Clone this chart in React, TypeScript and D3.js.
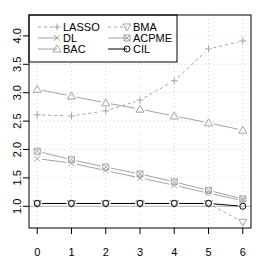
import React from 'react';
import * as d3 from 'd3';

const steps = [0, 1, 2, 3, 4, 5, 6];
const yTicks = [1.0, 1.5, 2.0, 2.5, 3.0, 3.5, 4.0];

const lasso = [2.61, 2.59, 2.68, 2.87, 3.21, 3.77, 3.91];
const dl = [1.84, 1.76, 1.63, 1.5, 1.37, 1.23, 1.1];
const bac = [3.06, 2.94, 2.82, 2.71, 2.59, 2.47, 2.34];
const bma = [1.05, 1.05, 1.05, 1.05, 1.05, 1.05, 0.72];
const acpme = [1.97, 1.82, 1.69, 1.57, 1.43, 1.28, 1.13];
const cil = [1.05, 1.05, 1.05, 1.05, 1.05, 1.05, 1.0];

const GRAY = '#a3a3a3';

type Shape = 'plus' | 'cross' | 'tri' | 'itri' | 'sqx' | 'circ';

const series: { name: string; values: number[]; shape: Shape; color: string; dash: string | null }[] = [
  { name: 'LASSO', values: lasso, shape: 'plus', color: GRAY, dash: '3,3' },
  { name: 'DL', values: dl, shape: 'cross', color: GRAY, dash: null },
  { name: 'BAC', values: bac, shape: 'tri', color: GRAY, dash: null },
  { name: 'BMA', values: bma, shape: 'itri', color: GRAY, dash: '3,3' },
  { name: 'ACPME', values: acpme, shape: 'sqx', color: GRAY, dash: null },
  { name: 'CIL', values: cil, shape: 'circ', color: '#000', dash: null },
];

const Marker = ({ shape, x, y, color }: { shape: Shape; x: number; y: number; color: string }) => {
  const r = 3.5;
  const p = { stroke: color, fill: 'none', strokeWidth: 1 };
  if (shape === 'plus')
    return <path {...p} d={`M${x - r},${y}H${x + r}M${x},${y - r}V${y + r}`} />;
  if (shape === 'cross')
    return <path {...p} d={`M${x - 2.8},${y - 2.8}L${x + 2.8},${y + 2.8}M${x - 2.8},${y + 2.8}L${x + 2.8},${y - 2.8}`} />;
  if (shape === 'tri')
    return <path {...p} d={`M${x},${y - 4}L${x + 4},${y + 3}L${x - 4},${y + 3}Z`} />;
  if (shape === 'itri')
    return <path {...p} d={`M${x},${y + 4}L${x + 4},${y - 3}L${x - 4},${y - 3}Z`} />;
  if (shape === 'sqx')
    return <path {...p} d={`M${x - 3},${y - 3}h6v6h-6ZM${x - 3},${y - 3}l6,6M${x + 3},${y - 3}l-6,6`} />;
  return <circle {...p} cx={x} cy={y} r={3} />;
};

const App = () => {
  const width = 258;
  const height = 258;
  const left = 29, right = 251, top = 15, bottom = 228;

  const x = d3.scaleLinear().domain([-0.24, 6.24]).range([left, right]);
  const y = d3.scaleLinear().domain([0.618, 4.368]).range([bottom, top]);

  // R-style type="b": segments stop short of each point
  const gap = 5;
  const segs = (vals: number[]) => {
    const out: string[] = [];
    for (let i = 0; i < vals.length - 1; i++) {
      const x0 = x(steps[i]), y0 = y(vals[i]);
      const x1 = x(steps[i + 1]), y1 = y(vals[i + 1]);
      const dx = x1 - x0, dy = y1 - y0;
      const len = Math.hypot(dx, dy);
      if (len <= 2 * gap) continue;
      const ux = dx / len, uy = dy / len;
      out.push(`M${x0 + ux * gap},${y0 + uy * gap}L${x1 - ux * gap},${y1 - uy * gap}`);
    }
    return out.join('');
  };

  const legCols = [
    { lx0: 38, lx1: 57, tx: 63 },
    { lx0: 108, lx1: 127, tx: 133 },
  ];
  const legRows = [27, 38, 49];

  return (
    <svg width={width} height={height} style={{ position: 'absolute', left: 0, top: 0 }}
      fontFamily="'Liberation Sans', Arial, sans-serif">
      <rect width={width} height={height} fill="#fff" />
      {/* grid */}
      {steps.map(s => (
        <line key={'gx' + s} x1={x(s)} x2={x(s)} y1={top} y2={bottom} stroke="#d4d4d4" strokeDasharray="1,3" />
      ))}
      {yTicks.filter(t => t !== 1).map(t => (
        <line key={'gy' + t} x1={left} x2={right} y1={y(t)} y2={y(t)} stroke="#d4d4d4" strokeDasharray="1,3" />
      ))}
      <line x1={left} x2={right} y1={y(1)} y2={y(1)} stroke="#b5b5b5" />

      {/* series */}
      {series.map(s => (
        <g key={s.name}>
          <path d={segs(s.values)} stroke={s.color} fill="none" strokeDasharray={s.dash ?? undefined} />
          {s.values.map((v, i) => (
            <Marker key={i} shape={s.shape} x={x(steps[i])} y={y(v)} color={s.color} />
          ))}
        </g>
      ))}

      {/* legend */}
      <rect x={left} y={top} width={148} height={47} fill="#fff" stroke="#000" />
      {series.map((s, i) => {
        const c = legCols[Math.floor(i / 3)];
        const ry = legRows[i % 3];
        return (
          <g key={'lg' + s.name}>
            <line x1={c.lx0} x2={c.lx1} y1={ry} y2={ry} stroke={s.color} strokeDasharray={s.dash ?? undefined} />
            <Marker shape={s.shape} x={c.lx1} y={ry} color={s.color} />
            <text x={c.tx} y={ry + 4} fontSize={11}>{s.name}</text>
          </g>
        );
      })}

      {/* box */}
      <rect x={left} y={top} width={right - left} height={bottom - top} fill="none" stroke="#000" />

      {/* axes */}
      {steps.map(s => (
        <g key={'xt' + s}>
          <line x1={x(s)} x2={x(s)} y1={bottom} y2={bottom + 6} stroke="#000" />
          <text x={x(s)} y={256} fontSize={11} textAnchor="middle">{s}</text>
        </g>
      ))}
      {yTicks.map(t => (
        <g key={'yt' + t}>
          <line x1={left - 6} x2={left} y1={y(t)} y2={y(t)} stroke="#000" />
          <text transform={`translate(21,${y(t)}) rotate(-90)`} fontSize={11} textAnchor="middle">{t.toFixed(1)}</text>
        </g>
      ))}
    </svg>
  );
};

export default App;
